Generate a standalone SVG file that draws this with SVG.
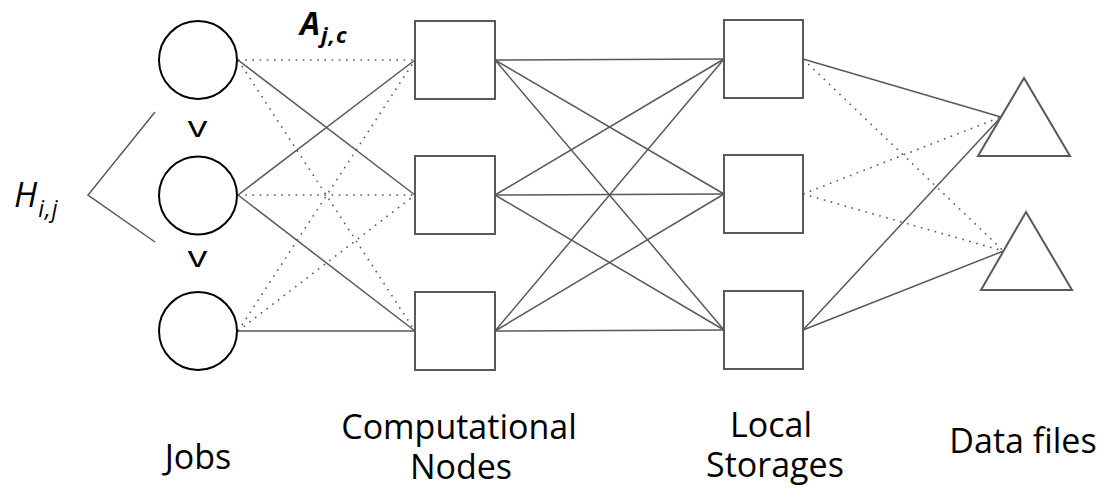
<svg xmlns="http://www.w3.org/2000/svg" width="1104" height="488" viewBox="0 0 1104 488">
<style>
.job{fill:#fff;stroke:#000;stroke-width:2}
.box{fill:#fff;stroke:#595959;stroke-width:2}
.tri{fill:#fff;stroke:#595959;stroke-width:2;stroke-linejoin:miter}
.s{stroke:#595959;stroke-width:1.5;fill:none}
.d{stroke:#595959;stroke-width:1.6;fill:none;stroke-dasharray:1.6 5.6}
.lbl{font-family:"Open Sans","Noto Sans",sans-serif;font-size:34px;fill:#000;text-anchor:middle}
.math{font-family:"Open Sans","Noto Sans",sans-serif;fill:#000;font-style:italic}
</style>
<rect width="1104" height="488" fill="#fff"/>
<g id="connectors">
<line class="d" x1="238" y1="60" x2="415" y2="60"/>
<line class="s" x1="238" y1="60" x2="415" y2="195"/>
<line class="d" x1="238" y1="60" x2="415" y2="331"/>
<line class="s" x1="238" y1="195" x2="415" y2="60"/>
<line class="d" x1="238" y1="195" x2="415" y2="195"/>
<line class="s" x1="238" y1="195" x2="415" y2="331"/>
<line class="d" x1="238" y1="331" x2="415" y2="60"/>
<line class="d" x1="238" y1="331" x2="415" y2="195"/>
<line class="s" x1="238" y1="331" x2="415" y2="331"/>
<line class="s" x1="495" y1="60" x2="724" y2="59"/>
<line class="s" x1="495" y1="60" x2="724" y2="194"/>
<line class="s" x1="495" y1="60" x2="724" y2="330"/>
<line class="s" x1="495" y1="195" x2="724" y2="59"/>
<line class="s" x1="495" y1="195" x2="724" y2="194"/>
<line class="s" x1="495" y1="195" x2="724" y2="330"/>
<line class="s" x1="495" y1="331" x2="724" y2="59"/>
<line class="s" x1="495" y1="331" x2="724" y2="194"/>
<line class="s" x1="495" y1="331" x2="724" y2="330"/>
<line class="s" x1="803" y1="59" x2="1001" y2="117"/>
<line class="d" x1="803" y1="59" x2="1003.5" y2="251"/>
<line class="d" x1="803" y1="194" x2="1001" y2="117"/>
<line class="d" x1="803" y1="194" x2="1003.5" y2="251"/>
<line class="s" x1="803" y1="330" x2="1001" y2="117"/>
<line class="s" x1="803" y1="330" x2="1003.5" y2="251"/>
</g>
<g id="job1"><circle class="job" cx="198" cy="60" r="39"/></g>
<g id="job2"><circle class="job" cx="198" cy="195.5" r="39"/></g>
<g id="job3"><circle class="job" cx="198" cy="331" r="39"/></g>
<g id="order">
<text x="0" y="0" transform="translate(197.5 137) scale(1.3 1)" class="lbl" style="font-size:30px">v</text>
<text x="0" y="0" transform="translate(197.5 267) scale(1.3 1)" class="lbl" style="font-size:30px">v</text>
</g>
<g id="hij">
<polyline class="s" points="155,112 88,195 155,242"/>
<text class="math" x="14" y="207" font-size="34">H<tspan font-size="23" dx="1" dy="10" letter-spacing="1">i,j</tspan></text>
</g>
<g id="ajc">
<text class="math" x="300" y="35" font-size="32" font-weight="bold">A<tspan font-size="22" dx="1" dy="8" letter-spacing="1">j,c</tspan></text>
</g>
<g id="comp1"><rect class="box" x="415" y="21" width="80" height="78"/></g>
<g id="comp2"><rect class="box" x="415" y="156" width="80" height="78"/></g>
<g id="comp3"><rect class="box" x="415" y="292" width="80" height="78"/></g>
<g id="stor1"><rect class="box" x="724" y="20" width="79" height="78"/></g>
<g id="stor2"><rect class="box" x="724" y="155" width="79" height="78"/></g>
<g id="stor3"><rect class="box" x="724" y="291" width="79" height="78"/></g>
<g id="data1"><polygon class="tri" points="1024,78 978,156 1070,156"/></g>
<g id="data2"><polygon class="tri" points="1026,212 981,290 1072,290"/></g>
<g id="labels">
<text class="lbl" x="198" y="469">Jobs</text>
<text class="lbl"><tspan x="459" y="439">Computational</tspan><tspan x="461" y="479">Nodes</tspan></text>
<text class="lbl"><tspan x="771" y="437">Local</tspan><tspan x="775" y="477">Storages</tspan></text>
<text class="lbl" x="1023" y="453">Data files</text>
</g>
</svg>
